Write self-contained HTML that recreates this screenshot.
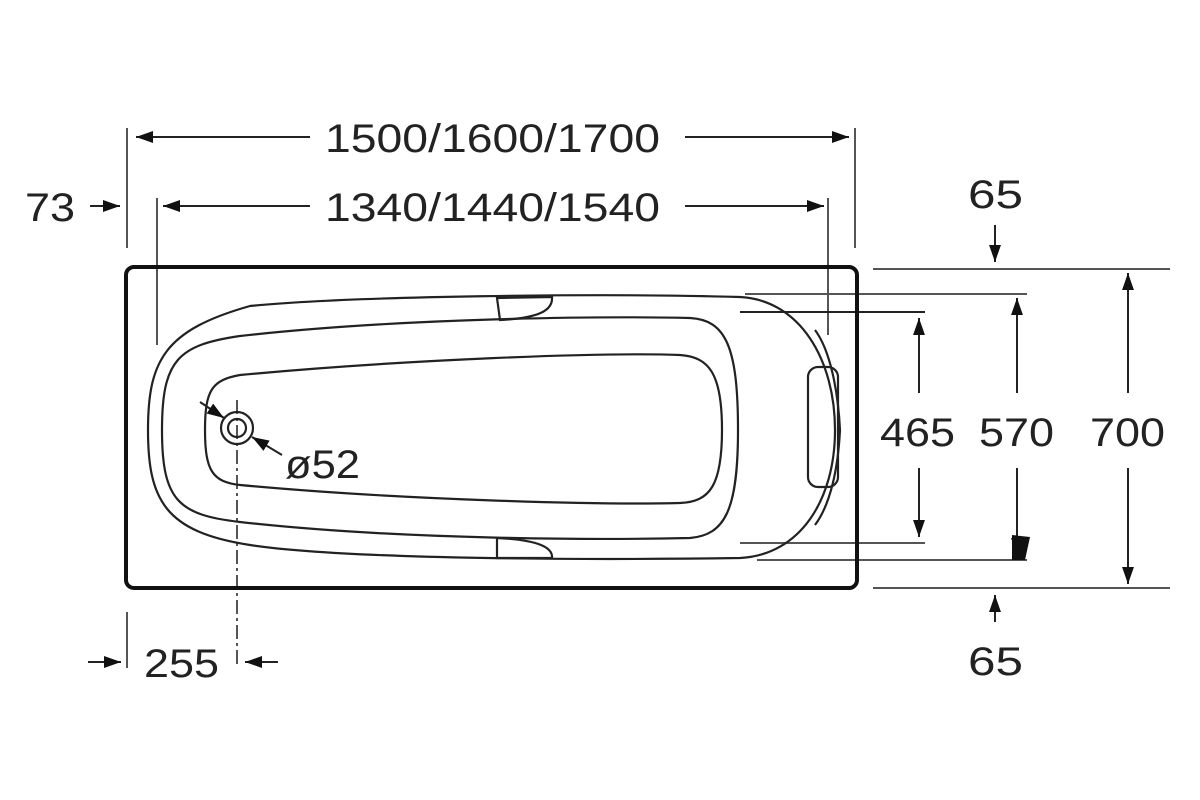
<!DOCTYPE html>
<html><head><style>html,body{margin:0;padding:0;background:#fff}svg{display:block}</style></head>
<body>
<svg width="1200" height="800" viewBox="0 0 1200 800" xmlns="http://www.w3.org/2000/svg">
<defs>
<marker id="b" viewBox="0 0 10 10" refX="10" refY="5" markerWidth="17" markerHeight="17" orient="auto-start-reverse" markerUnits="userSpaceOnUse">
<path d="M0,1.5 L10,5 L0,8.5 Z" fill="#111"/></marker>
</defs>
<g font-family="Liberation Sans, sans-serif" font-size="40" fill="#222">
<text x="325" y="152" textLength="335" lengthAdjust="spacingAndGlyphs">1500/1600/1700</text>
<text x="325" y="221" textLength="335" lengthAdjust="spacingAndGlyphs">1340/1440/1540</text>
<text x="25" y="221" textLength="50" lengthAdjust="spacingAndGlyphs">73</text>
<text x="968" y="208" textLength="55" lengthAdjust="spacingAndGlyphs">65</text>
<text x="968" y="675" textLength="55" lengthAdjust="spacingAndGlyphs">65</text>
<text x="144" y="677" textLength="75" lengthAdjust="spacingAndGlyphs">255</text>
<text x="880" y="446" textLength="75" lengthAdjust="spacingAndGlyphs">465</text>
<text x="979" y="446" textLength="75" lengthAdjust="spacingAndGlyphs">570</text>
<text x="1090" y="446" textLength="75" lengthAdjust="spacingAndGlyphs">700</text>
<text x="285" y="478" textLength="75" lengthAdjust="spacingAndGlyphs">ø52</text>
</g>
<g stroke="#555" stroke-width="2" fill="none">
<line x1="127" y1="128" x2="127" y2="248"/>
<line x1="855" y1="128" x2="855" y2="248"/>
<line x1="157" y1="198" x2="157" y2="345"/>
<line x1="828" y1="198" x2="828" y2="335"/>
<line x1="873" y1="269" x2="1170" y2="269"/>
<line x1="873" y1="588" x2="1170" y2="588"/>
<line x1="745" y1="294" x2="1027" y2="294"/>
<line x1="740" y1="312" x2="925" y2="312" stroke="#222"/>
<line x1="740" y1="543" x2="925" y2="543"/>
<line x1="757" y1="560" x2="1027" y2="560"/>
<line x1="127" y1="612" x2="127" y2="668"/>
<line x1="237" y1="400" x2="237" y2="668" stroke-dasharray="14,4,3,4"/>
</g>
<g stroke="#222" stroke-width="2" fill="none">
<line x1="310" y1="137" x2="136" y2="137" marker-end="url(#b)"/>
<line x1="685" y1="137" x2="849" y2="137" marker-end="url(#b)"/>
<line x1="310" y1="206" x2="163" y2="206" marker-end="url(#b)"/>
<line x1="685" y1="206" x2="824" y2="206" marker-end="url(#b)"/>
<line x1="90" y1="206" x2="120" y2="206" marker-end="url(#b)"/>
<line x1="995" y1="225" x2="995" y2="262" marker-end="url(#b)"/>
<line x1="995" y1="622" x2="995" y2="595" marker-end="url(#b)"/>
<line x1="88" y1="662" x2="121" y2="662" marker-end="url(#b)"/>
<line x1="278" y1="662" x2="245" y2="662" marker-end="url(#b)"/>
<line x1="919" y1="393" x2="919" y2="318" marker-end="url(#b)"/>
<line x1="919" y1="468" x2="919" y2="537" marker-end="url(#b)"/>
<line x1="1017" y1="393" x2="1017" y2="298" marker-end="url(#b)"/>
<line x1="1017" y1="468" x2="1017" y2="555" marker-end="url(#b)"/>
<line x1="1128" y1="393" x2="1128" y2="273" marker-end="url(#b)"/>
<line x1="1128" y1="468" x2="1128" y2="584" marker-end="url(#b)"/>
<line x1="200" y1="402" x2="224" y2="418" marker-end="url(#b)"/>
<line x1="282" y1="455" x2="252" y2="437" marker-end="url(#b)"/>
</g>
<rect x="126" y="267" width="731" height="321" rx="8" stroke="#111" stroke-width="4" fill="none"/>
<g stroke="#222" stroke-width="2.2" fill="none">
<path d="M250,306 C350,296 600,293 740,297 C800,300 835,360 835,430 C835,500 800,555 740,558 C600,560 350,560 250,545 C165,532 148,500 148,430 C148,360 165,330 250,306 Z"/>
<path d="M240,336 C400,318 600,316 690,318 C725,320 738,345 738,430 C738,510 725,535 690,538 C600,540 400,540 240,522 C178,515 162,500 162,430 C162,360 178,345 240,336 Z"/>
<path d="M240,375 C400,360 600,352 680,355 C710,357 722,375 722,430 C722,485 710,502 680,503 C600,505 400,500 240,485 C212,482 205,470 205,430 C205,390 212,380 240,375 Z"/>
<path d="M497,298 L552,297 C553,310 540,318 500,320 Z"/>
<path d="M497,538 C540,540 553,548 552,558 L497,558 Z"/>
<rect x="808" y="367" width="30" height="120" rx="10"/>
<path d="M815,330 C830,350 838,390 840,430 C838,470 830,505 815,525"/>
<circle cx="237" cy="428" r="16"/>
<circle cx="237" cy="428" r="9"/>
</g>
<path d="M1012,535 L1030,537 L1025,560 L1012,560 Z" fill="#111"/>
</svg>
</body></html>
